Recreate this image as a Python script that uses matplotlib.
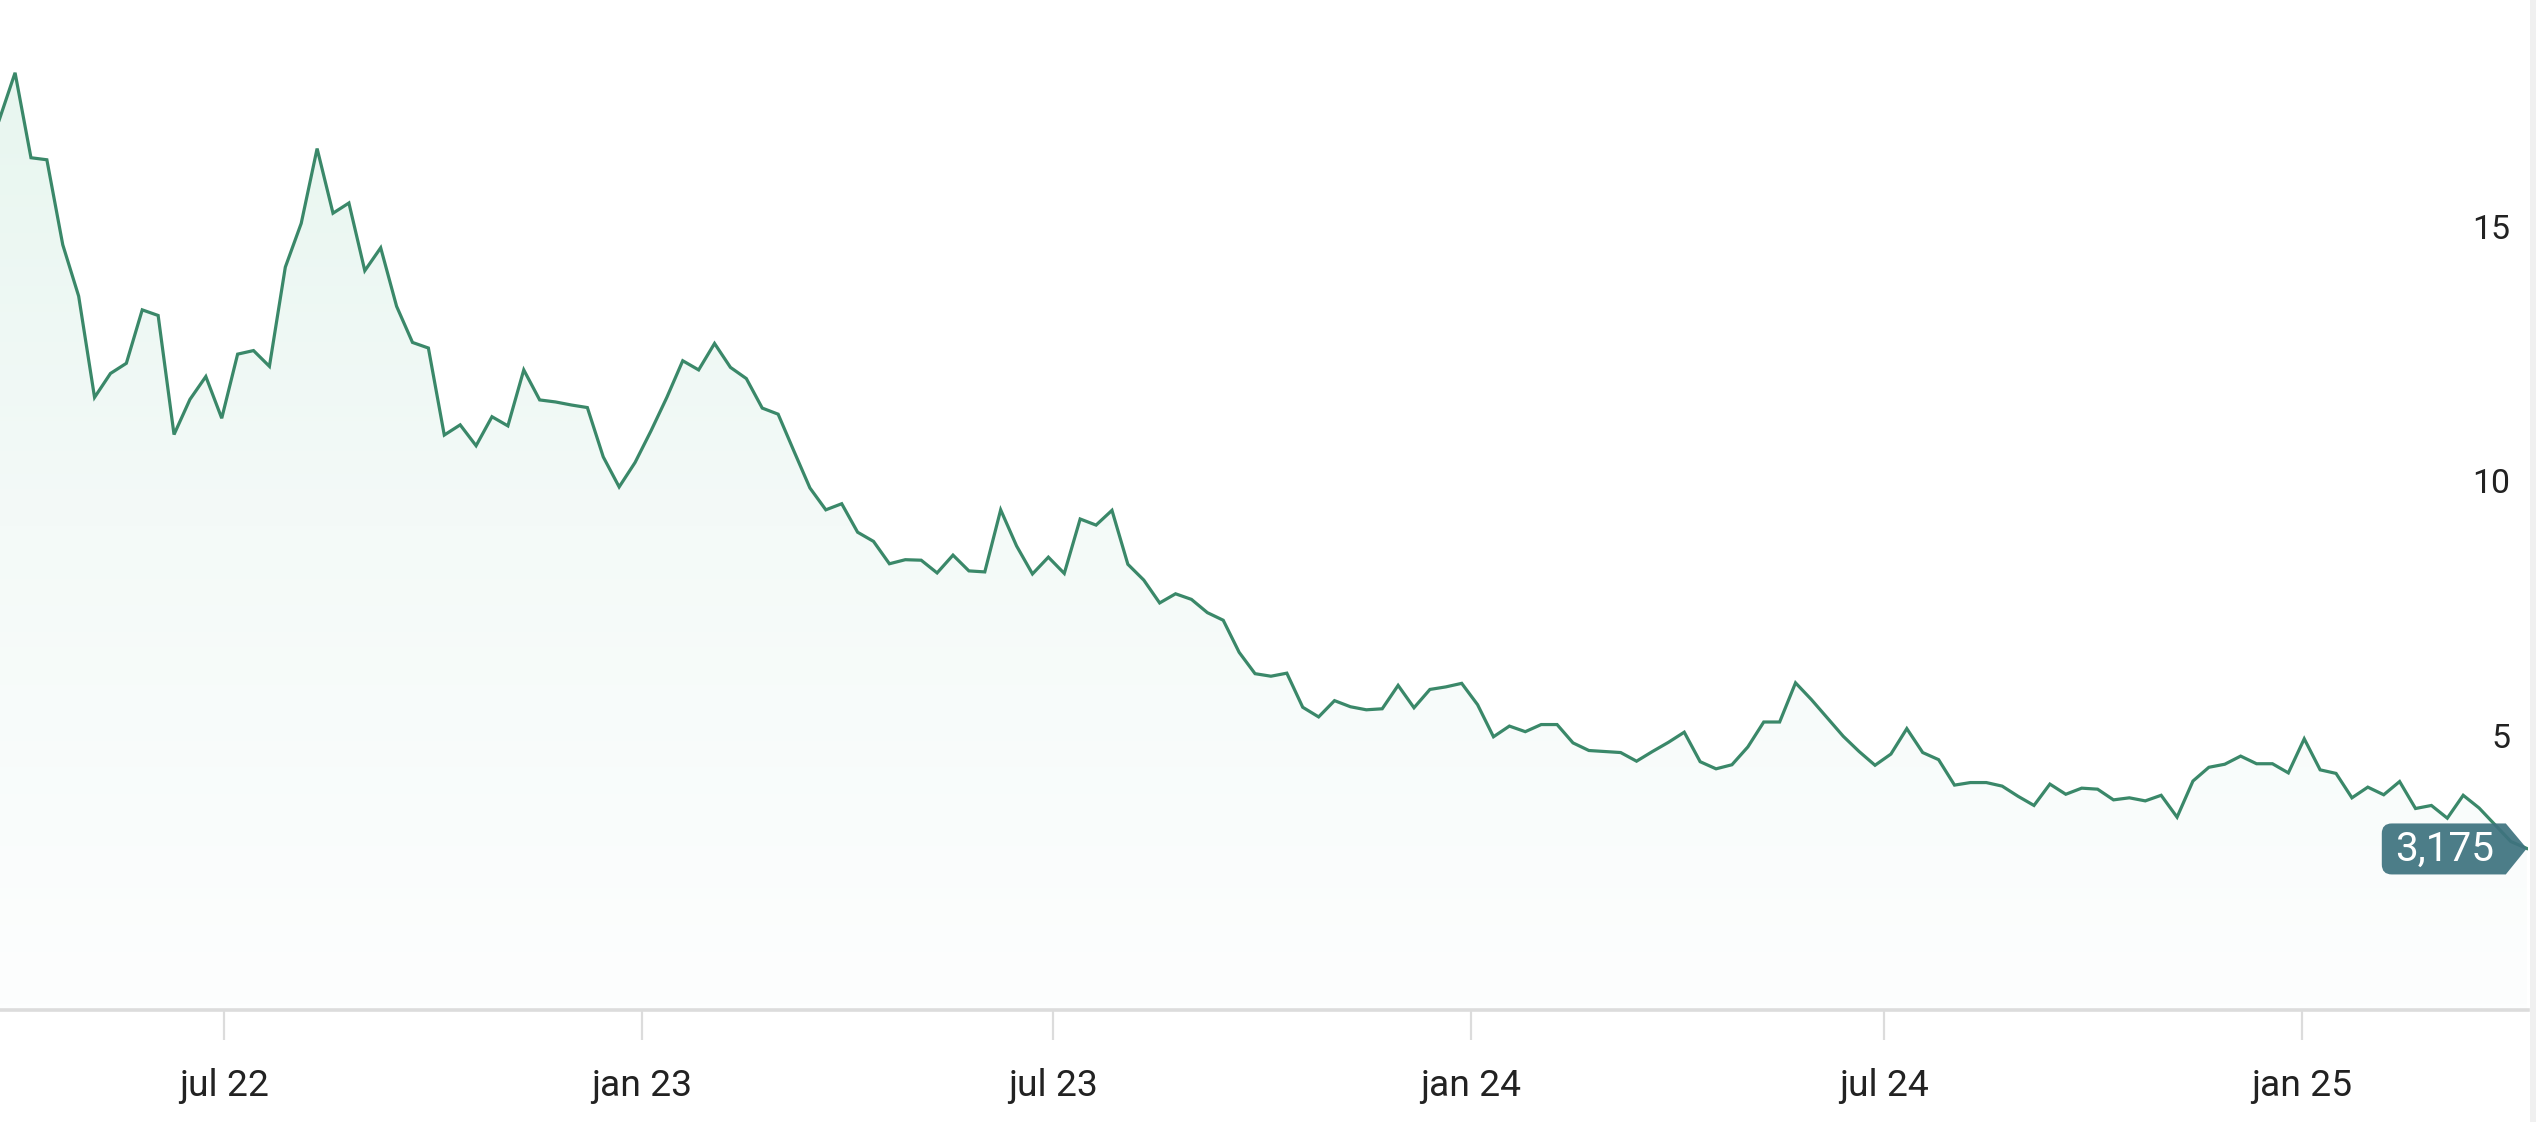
import numpy as np
import pandas as pd
import matplotlib
matplotlib.use("Agg")
import matplotlib.pyplot as plt
import matplotlib.dates as mdates
import matplotlib.transforms as mtransforms
from matplotlib.colors import LinearSegmentedColormap
from matplotlib.path import Path
from matplotlib.patches import PathPatch, Rectangle

# =========================
# DATA (weekly)
# =========================
dates = pd.date_range("2022-03-24", periods=160, freq="7D")
values = [
    17.49, 18.42, 16.75, 16.71, 15.04, 14.03, 12.04, 12.51, 12.71, 13.76,
    13.65, 11.31, 12.00, 12.45, 11.63, 12.89, 12.96, 12.65, 14.60, 15.46,
    16.93, 15.66, 15.86, 14.53, 14.98, 13.83, 13.12, 13.01, 11.30, 11.50,
    11.09, 11.66, 11.48, 12.58, 11.99, 11.95, 11.89, 11.84, 10.87, 10.28,
    10.76, 11.38, 12.04, 12.76, 12.58, 13.10, 12.63, 12.41, 11.83, 11.71,
    10.98, 10.26, 9.83, 9.95, 9.39, 9.21, 8.77, 8.85, 8.84, 8.59,
    8.94, 8.63, 8.61, 9.83, 9.12, 8.57, 8.90, 8.58, 9.65, 9.53,
    9.82, 8.76, 8.45, 8.00, 8.18, 8.07, 7.81, 7.66, 7.03, 6.61,
    6.56, 6.62, 5.95, 5.76, 6.08, 5.96, 5.90, 5.92, 6.38, 5.94,
    6.30, 6.35, 6.42, 6.00, 5.37, 5.58, 5.47, 5.61, 5.61, 5.25,
    5.10, 5.08, 5.06, 4.89, 5.08, 5.26, 5.46, 4.88, 4.74, 4.82,
    5.17, 5.66, 5.66, 6.43, 6.10, 5.74, 5.38, 5.08, 4.81, 5.03,
    5.53, 5.06, 4.92, 4.42, 4.47, 4.47, 4.40, 4.20, 4.02, 4.44,
    4.24, 4.36, 4.34, 4.13, 4.17, 4.11, 4.22, 3.79, 4.50, 4.77,
    4.83, 4.99, 4.84, 4.84, 4.66, 5.33, 4.72, 4.65, 4.17, 4.38,
    4.23, 4.49, 3.96, 4.02, 3.77, 4.22, 3.97, 3.64, 3.31, 3.175,
]
last_label = "3,175"

tick_dates = pd.to_datetime(["2022-07-01", "2023-01-01", "2023-07-01",
                             "2024-01-01", "2024-07-01", "2025-01-01"])
tick_labels = ["jul 22", "jan 23", "jul 23", "jan 24", "jul 24", "jan 25"]
y_ticks = [5, 10, 15]

# =========================
# STYLE
# =========================
LINE = "#3a8869"
BOX = "#3f737f"
TXT = "#222222"
W, H, DPI = 2536, 1122, 200

fig = plt.figure(figsize=(W / DPI, H / DPI), dpi=DPI)
fig.patch.set_facecolor("white")
ax = fig.add_axes([0, (H - 1010) / H, 2528 / W, 1010 / H])
ax.set_facecolor("white")

x = mdates.date2num(dates)
y = np.array(values)

x0 = mdates.date2num(pd.Timestamp("2022-07-01"))
ax.set_xlim(x0 - 224 / 2.271, x0 + (2528 - 224) / 2.271)
ax.set_ylim(0, 19.85)

# gradient fill under the line
cmap = LinearSegmentedColormap.from_list("g", ["#e7f6ef", "#f4faf8", "#fdfefe"])
grad = np.linspace(0, 1, 256).reshape(-1, 1)
im = ax.imshow(grad, extent=[x[0], x[-1], 0, 19.0], aspect="auto",
               cmap=cmap, origin="upper", zorder=1, interpolation="bicubic")
poly = ax.fill_between(x, y, 0, color="none", lw=0)
im.set_clip_path(poly.get_paths()[0], transform=ax.transData)

ax.plot(x, y, color=LINE, lw=1.15, zorder=3, solid_joinstyle="miter")

# axes styling
for s in ["top", "left", "right"]:
    ax.spines[s].set_visible(False)
ax.spines["bottom"].set_color("#dcdcdc")
ax.spines["bottom"].set_linewidth(1.3)
ax.set_yticks([])
ax.set_xticks(mdates.date2num(tick_dates))
ax.set_xticklabels(tick_labels, fontsize=13.4, color=TXT,
                   family=["Liberation Sans Narrow", "Roboto"])
ax.tick_params(axis="x", length=10.8, width=0.8, color="#dcdcdc", pad=10)

# y labels inside on the right
ytrans = mtransforms.offset_copy(ax.get_yaxis_transform(), fig=fig, y=17, units="dots")
for v in y_ticks:
    ax.text(2510 / 2528, v, str(v), transform=ytrans, ha="right", va="center",
            fontsize=12.2, color=TXT, family=["Roboto", "DejaVu Sans"])

# last value tag
anchor = mtransforms.ScaledTranslation(x[-1], y[-1], ax.transData)
tag_tr = mtransforms.Affine2D() + anchor
r = 10
left, right_body, top, bot = -145, -21, 25, -26
verts = [
    (left + r, top), (right_body, top), (0, 0), (right_body, bot),
    (left + r, bot), (left, bot), (left, bot + r), (left, top - r),
    (left, top), (left + r, top), (left + r, top),
]
codes = [Path.MOVETO, Path.LINETO, Path.LINETO, Path.LINETO,
         Path.LINETO, Path.CURVE3, Path.CURVE3, Path.LINETO,
         Path.CURVE3, Path.CURVE3, Path.CLOSEPOLY]
tag = PathPatch(Path(verts, codes), transform=tag_tr, facecolor=BOX,
                edgecolor="none", alpha=0.93, zorder=5, clip_on=False)
ax.add_patch(tag)
txt_tr = mtransforms.offset_copy(ax.transData, fig=fig, x=-82, y=-1, units="dots")
ax.text(x[-1], y[-1], last_label, transform=txt_tr, ha="center", va="center",
        fontsize=14.6, color="white", family=["Roboto", "DejaVu Sans"], zorder=6)

# light strip on the right edge
fig.patches.append(Rectangle((2530 / W, 0), 6 / W, 1, transform=fig.transFigure,
                             facecolor="#f0f0f0", edgecolor="none"))

fig.savefig("out.png", dpi=DPI)
